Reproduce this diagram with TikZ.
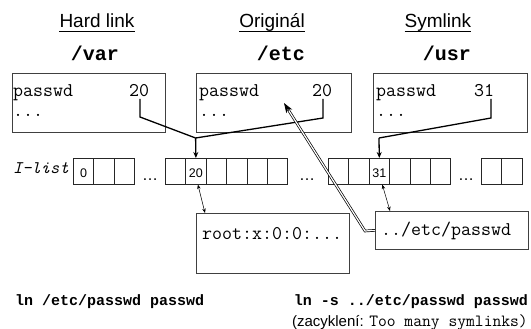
\documentclass[tikz,border=0pt]{standalone}
\usepackage{fontspec}
\setmainfont{Liberation Sans}
\newfontfamily\boldmono{Liberation Mono}[UprightFont=*-Bold]
\usetikzlibrary{arrows.meta,calc}

\begin{document}
\begin{tikzpicture}[x=1pt,y=-1pt,
  frame/.style={draw=black!75, line width=0.7pt, inner sep=0pt, anchor=north west},
  cell/.style={draw=black!85, line width=0.6pt, minimum width=20.4pt, minimum height=26pt, inner sep=0pt, anchor=north west},
  cellnum/.style={font=\fontsize{12.5}{14}\selectfont, inner sep=0pt},
  gap/.style={font=\fontsize{16}{18}\selectfont, inner sep=0pt, anchor=base},
  heading/.style={font=\fontsize{19}{22}\selectfont, inner sep=0pt, anchor=base},
  dirname/.style={font=\fontsize{20}{24}\selectfont\boldmono, inner sep=0pt, anchor=base},
  entry/.style={font=\fontsize{19.4}{22}\selectfont\ttfamily, inner sep=0pt, anchor=base west},
  num/.style={font=\fontsize{19.4}{22}\selectfont\ttfamily, inner sep=0pt, anchor=base},
  cmd/.style={font=\fontsize{15}{18}\selectfont\boldmono, inner sep=0pt},
  link/.style={line width=1.3pt, line join=miter},
  ptr/.style={line width=1.3pt, -{Stealth[length=6pt,width=5pt]}},
  ref/.style={line width=0.5pt, {Stealth[length=4.5pt,width=3.5pt]}-{Stealth[length=4.5pt,width=3.5pt]}},
  symref/.style={draw=black, line width=0.7pt, double=white, double distance=1.2pt},
]
\useasboundingbox (0,0) rectangle (531,329);

% column headings
\node[heading] (thard) at (97,28) {Hard link};
\node[heading] (torig) at (272,28) {Originál};
\node[heading] (tsym)  at (438,28) {Symlink};
\foreach \t in {thard,torig,tsym}
  \draw[line width=0.9pt] ([yshift=-3pt]\t.base west) -- ([yshift=-3pt]\t.base east);

% directory names
\node[dirname] (dvar) at (95,61) {/var};
\node[dirname] (detc) at (281,61) {/etc};
\node[dirname] (dusr) at (447,61) {/usr};

% directory contents
\node[frame, minimum width=153pt, minimum height=59pt] (varbox) at (12,73) {};
\node[frame, minimum width=155pt, minimum height=59pt] (etcbox) at (196,73) {};
\node[frame, minimum width=154pt, minimum height=59pt] (usrbox) at (373,73) {};

\node[entry] (vpw) at (13,97) {passwd};
\node[entry] (vdd) at (13,117) {...};
\node[num]   (v20) at (139,97) {20};
\node[entry] (epw) at (199,97) {passwd};
\node[entry] (edd) at (199,117) {...};
\node[num]   (e20) at (322,97) {20};
\node[entry] (upw) at (376,97) {passwd};
\node[entry] (udd) at (376,117) {...};
\node[num]   (u31) at (484,97) {31};

% i-node table
\node[font=\fontsize{17.7}{20}\selectfont\ttfamily\itshape, inner sep=0pt, anchor=base east] (ilist) at (69,174) {I-list};
\foreach \g/\x/\n in {1/73/3, 2/165/6, 3/328/6, 4/481/2}
  \foreach \i in {1,...,\n}
    \node[cell] (c\g-\i) at ({\x+(\i-1)*20.4},158) {};
\node[cellnum] (n0)  at ([yshift=-2pt]c1-1.center) {0};
\node[cellnum] (n20) at ([yshift=-2pt]c2-2.center) {20};
\node[cellnum] (n31) at ([yshift=-2pt]c3-3.center) {31};
\node[gap] (g1) at (150,180) {…};
\node[gap] (g2) at (307,180) {…};
\node[gap] (g3) at (466,180) {…};

% file contents
\node[frame, minimum width=153pt, minimum height=60pt] (rootbox) at (196,213) {};
\node[entry] (rtxt) at (202,240) {root:x:0:0:...};
\node[frame, minimum width=153pt, minimum height=38pt] (linkbox) at (375,211) {};
\node[entry] (ltxt) at (381,235) {../etc/passwd};

% directory entries pointing into the i-node table
\coordinate (vbend) at (140,117);
\coordinate (ebend) at (323,118);
\coordinate (ustart) at (491,99);
\coordinate (ubend) at (491,118);
\coordinate (j1) at (195.6,138);
\coordinate (j2) at (379,138);
\draw[link] ([yshift=-2pt]v20.base -| vbend) -- (vbend) -- (j1);
\draw[link] ([yshift=-2pt]e20.base -| ebend) -- (ebend) -- (j1);
\draw[link] (ustart) -- (ubend) -- (j2);
\draw[ptr] (j1) -- (c2-2.north);
\draw[ptr] (j2) -- (c3-3.north);

% i-nodes to data blocks
\draw[ref] ([xshift=2pt]c2-2.south) -- ([xshift=9pt]rootbox.north west);
\draw[ref] ([xshift=3pt]c3-3.south) -- ([xshift=15pt]linkbox.north west);

% symbolic link resolves by path name
\coordinate (sbend) at (365,231);
\coordinate (stip) at (284,103);
\draw[symref] (linkbox.west) -- (sbend) -- ($(stip)!8pt!(sbend)$);
\draw[line width=0.8pt, -{Stealth[length=10pt,width=7pt]}] ($(stip)!9pt!(sbend)$) -- (stip);

% commands
\node[cmd, anchor=base west] (hcmd) at (15,305) {ln /etc/passwd passwd};
\node[cmd, anchor=base east] (scmd) at (528,305) {ln -s ../etc/passwd passwd};
\node[font=\fontsize{15}{18}\selectfont, inner sep=0pt, anchor=base east] (note) at (528,326) {(zacyklení: {\fontsize{17.1}{18}\selectfont\ttfamily Too many symlinks)}};
\end{tikzpicture}
\end{document}
